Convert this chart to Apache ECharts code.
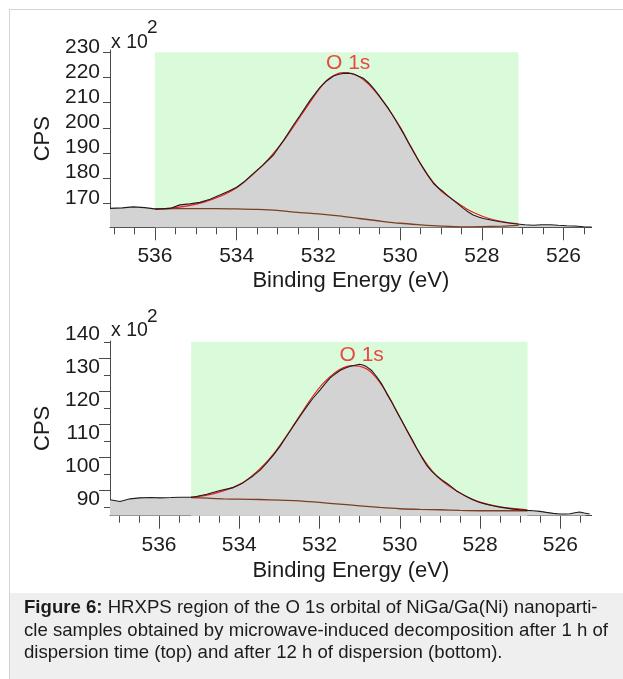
<!DOCTYPE html>
<html>
<head>
<meta charset="utf-8">
<script src="https://cdn.jsdelivr.net/npm/echarts@6/dist/echarts.min.js"></script>
<style>
  html, body { margin: 0; padding: 0; background: #ffffff; }
  #chart { width: 623px; height: 679px; }
</style>
</head>
<body>
<div id="chart"></div>
<script>
// ---- O 1s spectrum after 1 h dispersion (counts in units of 10^2 CPS) ----
const topEnergy = [537.10, 536.80, 536.53, 536.25, 535.96, 535.63, 535.39, 535.15, 534.90, 534.65,
  534.41, 534.20, 534.00, 533.80, 533.59, 533.35, 533.10, 532.85, 532.61, 532.45,
  532.20, 531.96, 531.80, 531.63, 531.50, 531.39, 531.25, 531.14, 531.00, 530.90,
  530.78, 530.65, 530.53, 530.41, 530.28, 530.16, 530.04, 529.92, 529.80, 529.67,
  529.55, 529.43, 529.30, 529.18, 529.06, 528.94, 528.82, 528.70, 528.57, 528.45,
  528.33, 528.21, 528.08, 527.96, 527.75, 527.55, 527.35, 527.14, 526.94, 526.74,
  526.54, 526.33, 526.13, 525.92, 525.72, 525.51, 525.31];
const topCounts = [168.0, 168.2, 168.6, 168.3, 167.7, 168.0, 169.4, 169.8, 170.4, 171.6,
  173.3, 174.8, 176.4, 178.8, 181.9, 185.3, 189.2, 195.0, 201.1, 204.9,
  211.0, 216.1, 218.6, 220.6, 221.3, 221.6, 221.7, 221.4, 220.4, 219.7,
  218.0, 215.7, 213.2, 210.4, 207.5, 204.4, 201.1, 197.8, 194.2, 190.5,
  187.0, 183.9, 180.6, 177.9, 176.1, 174.6, 172.9, 171.3, 169.6, 168.0,
  166.6, 165.4, 164.6, 164.0, 163.3, 162.7, 162.2, 161.8, 161.5, 161.3,
  161.5, 161.5, 161.3, 161.1, 161.0, 160.7, 160.6];
const topFitEnergy = [536.00, 535.60, 535.20, 534.80, 534.40, 534.00, 533.60, 533.20, 532.80, 532.40,
  532.00, 531.80, 531.60, 531.40, 531.20, 531.00, 530.80, 530.60, 530.40, 530.20,
  530.00, 529.80, 529.60, 529.40, 529.20, 529.00, 528.80, 528.60, 528.40, 528.20,
  528.00, 527.80, 527.60, 527.40, 527.10];
const topFitCounts = [167.8, 168.1, 169.0, 170.5, 172.8, 176.2, 181.5, 188.0, 196.0, 205.5,
  215.0, 218.8, 221.0, 221.9, 221.6, 220.3, 217.8, 214.3, 210.2, 205.5,
  200.4, 194.5, 188.6, 183.2, 178.6, 175.0, 172.5, 170.2, 168.1, 166.4,
  165.0, 163.9, 163.1, 162.5, 161.9];
const topBgEnergy = [536.00, 535.50, 535.00, 534.50, 534.00, 533.50, 533.00, 532.50, 532.00, 531.50,
  531.00, 530.50, 530.00, 529.50, 529.00, 528.50, 528.00, 527.50, 527.10];
const topBgCounts = [167.8, 167.9, 167.9, 167.9, 167.8, 167.6, 167.2, 166.4, 165.8, 165.0,
  164.0, 163.0, 162.1, 161.5, 161.0, 160.7, 160.8, 161.0, 161.3];
const topRegion = [536.0, 527.1];
const topRegionSpan = [160.5, 230];
const topPeakLabel = [531.27, 225.6];

// ---- O 1s spectrum after 12 h dispersion ----
const botEnergy = [537.22, 536.97, 536.72, 536.48, 536.20, 535.98, 535.70, 535.48, 535.15, 534.81,
  534.48, 534.15, 533.90, 533.65, 533.48, 533.32, 533.15, 532.99, 532.83, 532.66,
  532.49, 532.32, 532.16, 531.99, 531.87, 531.74, 531.62, 531.49, 531.37, 531.25,
  531.12, 531.00, 530.92, 530.83, 530.70, 530.58, 530.45, 530.33, 530.20, 530.08,
  529.95, 529.83, 529.70, 529.58, 529.46, 529.34, 529.21, 529.09, 528.96, 528.84,
  528.71, 528.59, 528.46, 528.34, 528.18, 528.01, 527.85, 527.68, 527.51, 527.34,
  527.18, 527.01, 526.84, 526.68, 526.51, 526.35, 526.18, 526.01, 525.88, 525.76,
  525.64, 525.52, 525.40, 525.27];
const botCounts = [92.2, 91.7, 92.5, 92.8, 92.9, 92.8, 92.9, 93.0, 93.0, 93.9,
  95.0, 95.9, 97.4, 99.5, 101.2, 103.3, 105.7, 108.3, 111.3, 114.4,
  117.4, 120.4, 123.0, 125.4, 127.2, 129.0, 130.2, 131.3, 132.0, 132.5,
  132.9, 133.2, 133.0, 132.5, 131.3, 129.5, 127.2, 124.4, 121.7, 118.9,
  116.1, 113.4, 110.6, 107.8, 105.2, 102.8, 100.9, 99.5, 98.3, 97.3,
  96.1, 94.9, 94.0, 93.2, 92.2, 91.4, 90.9, 90.4, 90.0, 89.7,
  89.4, 89.2, 89.0, 88.9, 88.7, 88.4, 88.1, 87.9, 87.9, 88.0,
  88.3, 88.5, 88.2, 87.9];
const botFitEnergy = [535.20, 534.80, 534.40, 534.00, 533.70, 533.40, 533.10, 532.80, 532.50, 532.20,
  531.90, 531.60, 531.40, 531.20, 531.00, 530.80, 530.60, 530.40, 530.20, 530.00,
  529.80, 529.60, 529.40, 529.20, 529.00, 528.80, 528.60, 528.40, 528.20, 528.00,
  527.80, 527.50, 527.20, 526.82];
const botFitCounts = [93.0, 93.6, 94.9, 96.8, 99.3, 102.6, 106.8, 111.9, 117.5, 123.0,
  127.6, 130.8, 132.2, 132.8, 132.6, 131.6, 129.3, 126.0, 121.8, 117.2,
  112.6, 108.2, 104.3, 101.0, 98.5, 96.6, 95.0, 93.6, 92.4, 91.5,
  90.8, 90.1, 89.6, 89.2];
const botBgEnergy = [535.20, 534.80, 534.40, 534.00, 533.50, 533.00, 532.50, 532.00, 531.50, 531.00,
  530.50, 530.00, 529.50, 529.00, 528.50, 528.00, 527.50, 526.82];
const botBgCounts = [92.9, 92.7, 92.5, 92.4, 92.3, 92.1, 91.9, 91.4, 90.9, 90.4,
  89.9, 89.5, 89.3, 89.2, 89.0, 88.9, 88.9, 88.9];
const botRegion = [535.2, 526.82];
const botRegionSpan = [87.4, 140];
const botPeakLabel = [530.95, 136.0];

// ---- axis ticks ----
const energyLabels = [526, 528, 530, 532, 534, 536];
const energyMinorTicks = [525.5, 526, 526.5, 527, 527.5, 528, 528.5, 529, 529.5, 530, 530.5,
  531, 531.5, 532, 532.5, 533, 533.5, 534, 534.5, 535, 535.5, 536, 536.5, 537];
const topCountLabels = [170, 180, 190, 200, 210, 220, 230];
const botCountLabels = [90, 100, 110, 120, 130, 140];
const botCountHalfTicks = [95, 105, 115, 125, 135];

const caption = [
  'HRXPS region of the O 1s orbital of NiGa/Ga(Ni) nanoparti-',
  'cle samples obtained by microwave-induced decomposition after 1 h of',
  'dispersion time (top) and after 12 h of dispersion (bottom).'
];

const FONT = '"Liberation Sans", Arial, Helvetica, sans-serif';
const INK = '#1c1c1c';
const AXIS = '#4a4a4a';
const zip = (xs, ys) => xs.map((x, i) => [x, ys[i]]);

function energyAxes(gridIndex, min, max, labelMargin, nameGap) {
  return [
    {
      gridIndex, type: 'value', min, max, inverse: true, position: 'bottom',
      splitLine: { show: false },
      axisLine: { show: true, lineStyle: { color: AXIS, width: 1 } },
      axisTick: { show: true, customValues: energyLabels, length: 13, lineStyle: { color: AXIS } },
      axisLabel: { customValues: energyLabels, fontSize: 21, color: INK, fontFamily: FONT, margin: labelMargin },
      name: 'Binding Energy (eV)', nameLocation: 'middle', nameGap,
      nameTextStyle: { fontSize: 22, color: INK, fontFamily: FONT }
    },
    {
      gridIndex, type: 'value', min, max, inverse: true, position: 'bottom',
      splitLine: { show: false },
      axisLine: { show: false },
      axisTick: { show: true, customValues: energyMinorTicks, length: 7, lineStyle: { color: AXIS } },
      axisLabel: { show: false }
    }
  ];
}

// tick labels sit just above their tick mark: the label line box ends at the tick
function countAxis(gridIndex, min, max, labels, labelLift, tickLen) {
  return {
    gridIndex, type: 'value', min, max, position: 'left',
    splitLine: { show: false },
    axisLine: { show: true, lineStyle: { color: AXIS, width: 1 } },
    axisTick: { show: true, customValues: labels, length: tickLen, lineStyle: { color: AXIS } },
    axisLabel: {
      customValues: labels, fontSize: 21, color: INK, fontFamily: FONT, margin: 10,
      verticalAlign: 'bottom', lineHeight: labelLift * 2
    },
    name: 'CPS', nameLocation: 'middle', nameGap: 55,
    nameTextStyle: { fontSize: 22, color: INK, fontFamily: FONT }
  };
}

function spectrumSeries(xi, yi, energy, counts, fitE, fitC, bgE, bgC, region, span, peak) {
  return [
    {
      type: 'line', xAxisIndex: xi, yAxisIndex: yi, data: [], silent: true, z: 1,
      markArea: {
        silent: true,
        itemStyle: { color: '#dafbda', opacity: 1 },
        data: [[{ coord: [region[0], span[1]] }, { coord: [region[1], span[0]] }]]
      }
    },
    {
      type: 'line', xAxisIndex: xi, yAxisIndex: yi, data: zip(energy, counts),
      showSymbol: false, silent: true, z: 2,
      lineStyle: { width: 0 }, areaStyle: { color: '#d3d3d3', opacity: 1, origin: 'start' }
    },
    {
      type: 'line', xAxisIndex: xi, yAxisIndex: yi, data: zip(bgE, bgC),
      showSymbol: false, silent: true, z: 3, smooth: 0.3,
      lineStyle: { color: '#7c3f22', width: 1.3 }
    },
    {
      type: 'line', xAxisIndex: xi, yAxisIndex: yi, data: zip(fitE, fitC),
      showSymbol: false, silent: true, z: 4, smooth: 0.3,
      lineStyle: { color: '#f01c1c', width: 1.2 }
    },
    {
      type: 'line', xAxisIndex: xi, yAxisIndex: yi, data: zip(energy, counts),
      showSymbol: false, silent: true, z: 5,
      lineStyle: { color: '#1d1d1d', width: 1.1 }
    },
    {
      type: 'scatter', xAxisIndex: xi, yAxisIndex: yi, data: [peak], symbolSize: 0, z: 6, silent: true,
      label: { show: true, position: 'inside', formatter: 'O 1s', fontSize: 21, color: '#ec1a1a', fontFamily: FONT }
    }
  ];
}

const chart = echarts.init(document.getElementById('chart'), null, { renderer: 'canvas' });

chart.setOption({
  animation: false,
  backgroundColor: '#ffffff',
  grid: [
    { left: 110, top: 50, width: 481.7, height: 177.3 },
    { left: 110, top: 341, width: 481.7, height: 174.7 }
  ],
  xAxis: [
    ...energyAxes(0, 525.31, 537.10, 18, 43),
    ...energyAxes(1, 525.22, 537.22, 19, 44)
  ],
  yAxis: [
    countAxis(0, 160.5, 230.9, topCountLabels, 5.5, 7),
    countAxis(1, 87.4, 140.24, botCountLabels, 8, 6),
    {
      gridIndex: 1, type: 'value', min: 87.4, max: 140.24, position: 'left',
      splitLine: { show: false }, axisLine: { show: false }, axisLabel: { show: false },
      axisTick: { show: true, customValues: botCountHalfTicks, length: 11, lineStyle: { color: AXIS } }
    }
  ],
  series: [
    ...spectrumSeries(0, 0, topEnergy, topCounts, topFitEnergy, topFitCounts, topBgEnergy, topBgCounts,
      topRegion, topRegionSpan, topPeakLabel),
    ...spectrumSeries(2, 1, botEnergy, botCounts, botFitEnergy, botFitCounts, botBgEnergy, botBgCounts,
      botRegion, botRegionSpan, botPeakLabel)
  ],
  graphic: [
    // figure frame
    { type: 'line', shape: { x1: 10, y1: 9.5, x2: 623, y2: 9.5 }, style: { stroke: '#d4d4d4', lineWidth: 1 }, silent: true },
    { type: 'line', shape: { x1: 9.5, y1: 9, x2: 9.5, y2: 679 }, style: { stroke: '#d4d4d4', lineWidth: 1 }, silent: true },
    // caption panel
    { type: 'rect', shape: { x: 10, y: 593, width: 613, height: 86 }, style: { fill: '#efefef' }, silent: true },
    // axis multipliers
    { type: 'text', x: 111, y: 43, style: { text: 'x 10', fontSize: 19.5, fontFamily: FONT, fill: INK, verticalAlign: 'middle' }, silent: true },
    { type: 'text', x: 147, y: 28, style: { text: '2', fontSize: 19, fontFamily: FONT, fill: INK, verticalAlign: 'middle' }, silent: true },
    { type: 'text', x: 111, y: 330.5, style: { text: 'x 10', fontSize: 19.5, fontFamily: FONT, fill: INK, verticalAlign: 'middle' }, silent: true },
    { type: 'text', x: 147, y: 316.5, style: { text: '2', fontSize: 19, fontFamily: FONT, fill: INK, verticalAlign: 'middle' }, silent: true },
    // caption
    {
      type: 'text', x: 24, y: 608, silent: true,
      style: {
        text: '{b|Figure 6:} ' + caption[0],
        fontSize: 18.6, fontFamily: FONT, fill: INK, verticalAlign: 'middle',
        rich: { b: { fontWeight: 'bold', fontSize: 18.6, fontFamily: FONT, fill: INK } }
      }
    },
    { type: 'text', x: 24, y: 630.5, silent: true, style: { text: caption[1], fontSize: 18.6, fontFamily: FONT, fill: INK, verticalAlign: 'middle' } },
    { type: 'text', x: 24, y: 653, silent: true, style: { text: caption[2], fontSize: 18.6, fontFamily: FONT, fill: INK, verticalAlign: 'middle' } }
  ]
});
</script>
</body>
</html>
